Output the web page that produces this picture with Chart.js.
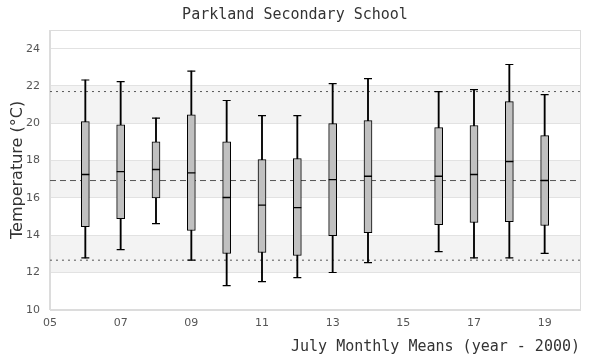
<!DOCTYPE html>
<html>
<head>
<meta charset="utf-8">
<script src="https://cdn.jsdelivr.net/npm/chart.js@4"></script>
<style>
  html, body { margin: 0; padding: 0; background: #fff; }
  #wrap { width: 600px; height: 360px; }
</style>
</head>
<body>
<div id="wrap"><canvas id="boxChart"></canvas></div>
<script>
// July monthly means, years after 2000
const years       = [6, 7, 8, 9, 10, 11, 12, 13, 14, 16, 17, 18, 19];
const whiskerLow  = [12.78, 13.23, 14.62, 12.66, 11.30, 11.51, 11.73, 12.00, 12.53, 13.12, 12.78, 12.78, 13.02];
const quart1      = [14.46, 14.89, 16.00, 14.25, 13.02, 13.07, 12.91, 13.98, 14.14, 14.57, 14.68, 14.73, 14.52];
const medians     = [17.25, 17.41, 17.52, 17.34, 16.02, 15.61, 15.48, 16.98, 17.16, 17.16, 17.25, 17.95, 16.93];
const quart3      = [20.09, 19.91, 19.00, 20.45, 19.00, 18.05, 18.11, 19.98, 20.14, 19.77, 19.88, 21.16, 19.34];
const whiskerHigh = [22.32, 22.23, 20.28, 22.80, 21.22, 20.41, 20.41, 22.13, 22.39, 21.70, 21.80, 23.15, 21.54];

const meanTemp = 16.93;
const upperRef = 21.70;
const lowerRef = 12.66;
const bands = [[12, 14], [16, 18], [20, 22]];

const xTickValues = [5, 7, 9, 11, 13, 15, 17, 19];
const yTickValues = [10, 12, 14, 16, 18, 20, 22, 24];
const xRange = [5, 20];
const yRange = [10, 25];

const monoFont = { family: "'DejaVu Sans Mono', monospace", size: 15, weight: 'normal' };
const tickFont = { family: "'DejaVu Sans', sans-serif", size: 11 };

function refLine(value, dash) {
    return {
        type: 'line',
        data: [{ x: xRange[0], y: value }, { x: xRange[1], y: value }],
        borderColor: '#555',
        borderWidth: 1,
        borderDash: dash,
        pointRadius: 0,
        order: 10
    };
}

const bandsPlugin = {
    id: 'bands',
    beforeDraw(chart) {
        const { ctx, chartArea, scales } = chart;
        ctx.save();
        ctx.fillStyle = '#f3f3f3';
        bands.forEach(b => {
            const top = scales.y.getPixelForValue(b[1]);
            const bottom = scales.y.getPixelForValue(b[0]);
            ctx.fillRect(chartArea.left, top, chartArea.right - chartArea.left, bottom - top);
        });
        ctx.restore();
    },
    beforeDatasetsDraw(chart) {
        const { ctx, chartArea } = chart;
        ctx.save();
        ctx.strokeStyle = '#dcdcdc';
        ctx.lineWidth = 1;
        ctx.strokeRect(Math.round(chartArea.left) + 0.5, Math.round(chartArea.top) + 0.5,
            Math.round(chartArea.right - chartArea.left), Math.round(chartArea.bottom - chartArea.top));
        ctx.restore();
    }
};

const ctx = document.getElementById('boxChart').getContext('2d');
new Chart(ctx, {
    type: 'bar',
    data: {
        datasets: [
            refLine(meanTemp, [6, 4]),
            refLine(upperRef, [2, 4]),
            refLine(lowerRef, [2, 4]),
            {
                // whiskers
                type: 'bar',
                data: years.map((yr, i) => ({ x: yr, y: [whiskerLow[i], whiskerHigh[i]] })),
                backgroundColor: '#000',
                barThickness: 1.2,
                grouped: false,
                order: 5
            },
            {
                // whisker caps
                type: 'scatter',
                data: years.map((yr, i) => ({ x: yr, y: whiskerLow[i] }))
                    .concat(years.map((yr, i) => ({ x: yr, y: whiskerHigh[i] }))),
                pointStyle: 'line',
                pointRadius: 4,
                pointBorderColor: '#000',
                pointBorderWidth: 1.2,
                order: 4
            },
            {
                // boxes
                type: 'bar',
                data: years.map((yr, i) => ({ x: yr, y: [quart1[i], quart3[i]] })),
                backgroundColor: '#c0c0c0',
                borderColor: '#000',
                borderWidth: 1,
                borderSkipped: false,
                barThickness: 8,
                grouped: false,
                order: 2
            },
            {
                // medians
                type: 'scatter',
                data: years.map((yr, i) => ({ x: yr, y: medians[i] })),
                pointStyle: 'line',
                pointRadius: 4,
                pointBorderColor: '#000',
                pointBorderWidth: 1.4,
                order: 1
            }
        ]
    },
    options: {
        responsive: true,
        maintainAspectRatio: false,
        animation: false,
        layout: { padding: { left: 10, right: 20, top: 0, bottom: 4 } },
        plugins: {
            legend: { display: false },
            tooltip: { enabled: false },
            title: {
                display: true,
                text: 'Parkland Secondary School',
                color: '#333',
                font: monoFont,
                padding: { top: 6, bottom: 6 }
            }
        },
        scales: {
            x: {
                type: 'linear',
                min: xRange[0],
                max: xRange[1],
                offset: false,
                grid: { display: false, drawTicks: false },
                border: { display: true, color: '#dcdcdc' },
                afterBuildTicks: s => { s.ticks = xTickValues.map(v => ({ value: v })); },
                ticks: {
                    callback: v => String(v).padStart(2, '0'),
                    font: tickFont,
                    color: '#555',
                    maxRotation: 0,
                    autoSkip: false,
                    padding: 7
                },
                title: {
                    display: true,
                    text: 'July Monthly Means (year - 2000)',
                    align: 'end',
                    color: '#333',
                    font: monoFont,
                    padding: { top: 1, bottom: 0 }
                }
            },
            y: {
                min: yRange[0],
                max: yRange[1],
                afterBuildTicks: s => { s.ticks = yTickValues.map(v => ({ value: v })); },
                grid: { color: '#e2e2e2', drawTicks: false },
                border: { display: true, color: '#dcdcdc' },
                ticks: { font: tickFont, color: '#555', padding: 10 },
                title: {
                    display: true,
                    text: 'Temperature (°C)',
                    color: '#333',
                    font: { family: "'DejaVu Sans', sans-serif", size: 16, lineHeight: 1 },
                    padding: { top: 0, bottom: -10 }
                }
            }
        }
    },
    plugins: [bandsPlugin]
});
</script>
</body>
</html>
